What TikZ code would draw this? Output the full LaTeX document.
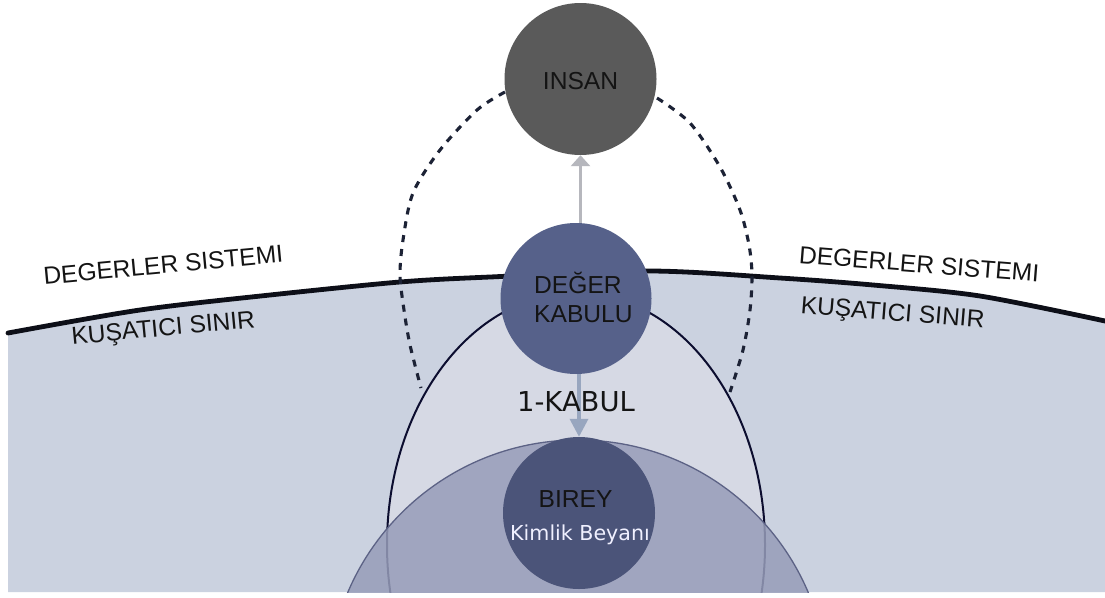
\documentclass[tikz,border=0pt]{standalone}
\usepackage{fontspec}
\setmainfont{Liberation Sans}
\newfontfamily\dejavu{DejaVu Sans}
\usetikzlibrary{arrows.meta}
\definecolor{bgblue}{HTML}{CBD2E0}
\definecolor{ellfill}{HTML}{D6D9E4}
\definecolor{bigfill}{HTML}{979DB9}
\definecolor{bigline}{HTML}{5C6285}
\definecolor{insanc}{HTML}{5A5A5A}
\definecolor{degerc}{HTML}{56618A}
\definecolor{bireyc}{HTML}{4B5479}
\definecolor{arcc}{HTML}{0D0F18}
\definecolor{dashc}{HTML}{1C2235}
\definecolor{arrowa}{HTML}{B6B7BD}
\definecolor{arrowb}{HTML}{98A6BF}
\definecolor{txtc}{HTML}{141414}
\tikzset{
  bigtxt/.style={font=\fontsize{24.6}{29}\selectfont, text=txtc, inner sep=0pt},
  lbl/.style={bigtxt, anchor=base},
  ball/.style={circle, inner sep=0pt, draw=none},
  upline/.style={draw=arrowa, line width=2.8pt, -{Triangle[length=11pt,width=19pt]}},
  downline/.style={draw=arrowb, line width=3.5pt, -{Triangle[length=18pt,width=18pt]}},
  dashedcurve/.style={draw=dashc, line width=3.1pt, dash pattern=on 7pt off 7pt},
  bigarc/.style={draw=arcc, line width=4.8pt, line cap=round}
}
\begin{document}
\begin{tikzpicture}[x=1pt,y=-1pt]
\useasboundingbox[fill=white] (0,0) rectangle (1105,597);
\begin{scope}
  \clip (8,0) rectangle (1105,592);
  \fill[bgblue] plot[smooth] coordinates {(8,333) (140,310) (270,295) (400,282) (490,277) (650,271) (780,278) (873,285) (980,296) (1105,321)} -- (1105,592) -- (8,592) -- cycle;
  \draw[fill=ellfill, draw=arcc!90!blue, line width=2pt] (576,545) ellipse (189 and 252);
  \draw[fill=bigfill, fill opacity=0.85, draw=bigline, line width=1.3pt] (578,690) circle (250);
\end{scope}
\draw[bigarc] plot[smooth] coordinates {(8,333) (140,310) (270,295) (400,282) (490,277) (650,271) (780,278) (873,285) (980,296) (1105,321)};
\draw[dashedcurve] plot[smooth] coordinates {(505,92) (477,110) (440,150) (413,193) (403,240) (400,275) (404,310) (410,345) (421,388)};
\draw[dashedcurve] plot[smooth] coordinates {(657,98) (690,123) (720,167) (740,210) (749,245) (752,275) (750,310) (743,350) (730,392)};
\node[ball, fill=insanc, minimum size=152pt] (insan) at (580.5,79) {};
\node[ball, fill=degerc, minimum size=151pt] (deger) at (576,298.5) {};
\node[ball, fill=bireyc, minimum size=152pt] (birey) at (579,513) {};
\draw[upline] (insan.south |- deger.north) -- (insan.south);
\draw[downline] (birey.north |- deger.south) -- (birey.north);
\node[lbl] (insantxt) at (580.5,89) {INSAN};
\node[lbl, anchor=base west] (degertxt) at (534,293) {DEĞER};
\node[lbl, anchor=base west] (kabulutxt) at (534,322) {KABULU};
\node[lbl, font=\dejavu\fontsize{27.4}{32}\selectfont] (kabul) at (576,411) {1-KABUL};
\node[lbl] (bireytxt) at (575.5,507) {BIREY};
\node[lbl, font=\dejavu\fontsize{20.6}{24}\selectfont, text=white!94!blue] (kimlik) at (580,540) {Kimlik Beyanı};
\node[lbl, rotate=5.4] (dsl) at (164,273.5) {DEGERLER SISTEMI};
\node[lbl, rotate=5.4] (ksl) at (164,336) {KUŞATICI SINIR};
\node[lbl, rotate=-4.5] (dsr) at (918.5,272.5) {DEGERLER SISTEMI};
\node[lbl, rotate=-4.6] (ksr) at (892,320.5) {KUŞATICI SINIR};
\end{tikzpicture}
\end{document}
